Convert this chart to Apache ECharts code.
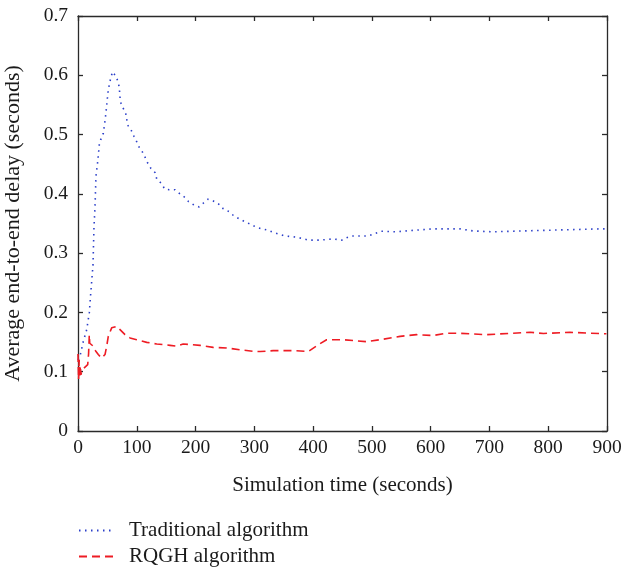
<!DOCTYPE html>
<html>
<head>
<meta charset="utf-8">
<script src="https://cdn.jsdelivr.net/npm/echarts@6/dist/echarts.min.js"></script>
<style>html,body{margin:0;padding:0;background:#fff;}#c{width:622px;height:571px;}</style>
</head>
<body>
<div id="c"></div>
<script>
var xTicks = [0,100,200,300,400,500,600,700,800,900];
var yTicks = [0,0.1,0.2,0.3,0.4,0.5,0.6,0.7];
var seriesNames = ['Traditional algorithm','RQGH algorithm'];
var traditional = [
[0,0.12],[3.4,0.126],[9,0.151],[14.8,0.171],[19.3,0.2],[21,0.224],[22.7,0.245],[25.5,0.28],[27.2,0.344],[28.9,0.377],[30.6,0.43],[33.5,0.454],[36.3,0.483],[38.5,0.491],[43,0.502],[45.4,0.519],[47.6,0.537],[49.3,0.555],[51.6,0.576],[53.9,0.587],[56,0.597],[59,0.606],[64.6,0.598],[68.6,0.588],[70.3,0.578],[72,0.556],[75.4,0.547],[81,0.537],[84.5,0.516],[90.2,0.508],[95.3,0.497],[99.8,0.488],[103.8,0.479],[109.4,0.471],[114,0.462],[118.5,0.452],[124,0.443],[131,0.436],[134,0.425],[142.4,0.417],[147.5,0.408],[155,0.407],[165,0.407],[173.5,0.4],[182,0.394],[188,0.387],[196,0.382],[206,0.378],[214,0.385],[221,0.391],[230,0.388],[239,0.383],[247,0.375],[257,0.37],[265,0.363],[274,0.358],[284,0.353],[293,0.349],[303,0.344],[312.5,0.341],[323,0.339],[332,0.335],[352,0.329],[372,0.327],[392,0.322],[412,0.322],[434,0.324],[449,0.322],[457,0.326],[466,0.329],[494,0.329],[502,0.332],[516,0.337],[542,0.336],[565,0.338],[605,0.341],[650,0.341],[672,0.3375],[706,0.336],[758,0.3375],[814,0.339],[891,0.341],[900,0.341]
];
var rqgh = [
[0,0.13],[1,0.087],[2,0.12],[3,0.09],[4,0.11],[5,0.095],[6.3,0.1],[9,0.105],[12,0.106],[16.5,0.112],[18,0.13],[19.2,0.162],[20,0.148],[21.5,0.151],[26,0.143],[30,0.135],[34.5,0.129],[40,0.123],[46,0.129],[48.8,0.143],[51.6,0.16],[57.3,0.174],[65.8,0.1765],[71.5,0.171],[80,0.1625],[88.5,0.157],[99.8,0.154],[117,0.1495],[134,0.1468],[156.5,0.1445],[168,0.143],[179,0.1468],[207.6,0.1445],[230,0.141],[253,0.14],[276,0.137],[298,0.1343],[310,0.134],[332,0.1355],[366,0.1355],[392,0.1343],[409,0.1456],[423,0.154],[451,0.154],[491,0.1507],[514,0.154],[548,0.1596],[576,0.1625],[604,0.161],[627,0.165],[644,0.165],[695,0.1625],[769,0.1665],[792,0.1645],[837,0.1665],[871,0.165],[899,0.164]
];
var font = 'Liberation Serif';
var chart = echarts.init(document.getElementById('c'));
var axisLine = {show:true, onZero:false, lineStyle:{color:'#2a2a2a', width:1.3}};
var tick = {show:true, inside:true, length:5, lineStyle:{color:'#2a2a2a', width:1.3}};
chart.setOption({
  animation:false,
  backgroundColor:'#fff',
  grid:{left:78, right:15, top:16, bottom:140, containLabel:false, outerBoundsMode:'none'},
  legend:{
    orient:'vertical', left:78, top:520, padding:0, itemWidth:36, itemHeight:10, itemGap:5,
    itemStyle:{opacity:0},
    textStyle:{fontFamily:font, fontSize:21, lineHeight:21, color:'#1a1a1a', padding:[0,0,0,9]},
    data:seriesNames
  },
  xAxis:[{
    type:'value', min:0, max:900, interval:100,
    name:'Simulation time (seconds)', nameLocation:'middle', nameGap:44,
    nameTextStyle:{fontFamily:font, fontSize:21, color:'#1a1a1a'},
    axisLine:axisLine, axisTick:tick, splitLine:{show:false},
    axisLabel:{fontFamily:font, fontSize:19.5, color:'#1a1a1a', margin:7, formatter:function(v){return xTicks.indexOf(v)>=0?String(v):'';}}
  },{
    type:'value', position:'top', min:0, max:900, interval:100,
    axisLine:axisLine, axisTick:tick, axisLabel:{show:false}, splitLine:{show:false}
  }],
  yAxis:[{
    type:'value', min:0, max:0.7, interval:0.1,
    name:'Average end-to-end delay (seconds)', nameLocation:'middle', nameGap:54,
    nameTextStyle:{fontFamily:font, fontSize:22, color:'#1a1a1a'},
    axisLine:axisLine, axisTick:tick, splitLine:{show:false},
    axisLabel:{fontFamily:font, fontSize:19.5, color:'#1a1a1a', margin:10, formatter:function(v){
      var r = Math.round(v*10)/10; return r===0?'0':r.toFixed(1);}}
  },{
    type:'value', position:'right', min:0, max:0.7, interval:0.1,
    axisLine:axisLine, axisTick:tick, axisLabel:{show:false}, splitLine:{show:false}
  }],
  series:[{
    name:seriesNames[0], type:'line', data:traditional, showSymbol:false, symbol:'none',
    lineStyle:{color:'#2b3fc9', width:1.6, type:[1.5,4.5]}, itemStyle:{color:'#2b3fc9'}
  },{
    name:seriesNames[1], type:'line', data:rqgh, showSymbol:false, symbol:'none',
    lineStyle:{color:'#ee1c24', width:1.6, type:[8,5]}, itemStyle:{color:'#ee1c24'}
  }]
});
</script>
</body>
</html>
